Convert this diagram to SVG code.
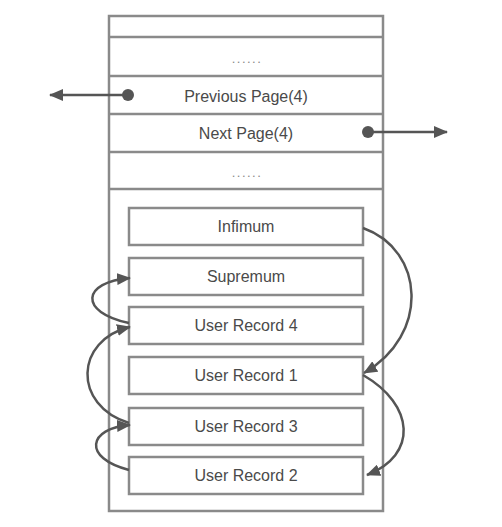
<svg xmlns="http://www.w3.org/2000/svg" width="502" height="527" viewBox="0 0 502 527">
<style>
.box{fill:#fff;stroke:#8a8a8a;stroke-width:2.5}
.t{font-family:"Liberation Sans",Arial,sans-serif;font-size:16px;fill:#4a4a4a;text-anchor:middle}
.d{font-family:"Liberation Sans",Arial,sans-serif;font-size:13px;fill:#888;text-anchor:middle;letter-spacing:1.5px}
.c{fill:none;stroke:#555;stroke-width:2.5}
</style>
<defs>
<marker id="ah" markerWidth="14" markerHeight="12" refX="13" refY="6" orient="auto" markerUnits="userSpaceOnUse">
<path d="M0,0 L14,6 L0,12 Z" fill="#555"/>
</marker>
</defs>
<rect width="502" height="527" fill="#fff"/>
<g id="page">
<rect class="box" x="109" y="16" width="274" height="495"/>
<line class="box" x1="109" y1="37" x2="383" y2="37"/>
<line class="box" x1="109" y1="76" x2="383" y2="76"/>
<line class="box" x1="109" y1="114" x2="383" y2="114"/>
<line class="box" x1="109" y1="152" x2="383" y2="152"/>
<line class="box" x1="109" y1="189" x2="383" y2="189"/>
<text class="d" x="247" y="63">......</text>
<text class="t" x="246" y="102">Previous Page(4)</text>
<text class="t" x="246" y="139">Next Page(4)</text>
<text class="d" x="247" y="177">......</text>
</g>
<g id="infimum"><rect class="box" x="129" y="208" width="234" height="37"/><text class="t" x="246" y="232">Infimum</text></g>
<g id="supremum"><rect class="box" x="129" y="258" width="234" height="37"/><text class="t" x="246" y="282">Supremum</text></g>
<g id="ur4"><rect class="box" x="129" y="307" width="234" height="37"/><text class="t" x="246" y="331">User Record 4</text></g>
<g id="ur1"><rect class="box" x="129" y="357" width="234" height="37"/><text class="t" x="246" y="381">User Record 1</text></g>
<g id="ur3"><rect class="box" x="129" y="408" width="234" height="37"/><text class="t" x="246" y="432">User Record 3</text></g>
<g id="ur2"><rect class="box" x="129" y="457" width="234" height="37"/><text class="t" x="246" y="481">User Record 2</text></g>
<g id="connectors">
<circle cx="128" cy="95" r="6" fill="#555"/>
<line class="c" x1="128" y1="95" x2="50" y2="95" marker-end="url(#ah)"/>
<circle cx="368" cy="132" r="6" fill="#555"/>
<line class="c" x1="368" y1="132" x2="447" y2="132" marker-end="url(#ah)"/>
<path class="c" d="M363,228 C425,250 430,335 364,373" marker-end="url(#ah)"/>
<path class="c" d="M363,375 C415,405 418,455 367,475" marker-end="url(#ah)"/>
<path class="c" d="M129,470 C82,458 88,428 130,425" marker-end="url(#ah)"/>
<path class="c" d="M129,423 C72,405 75,340 130,327" marker-end="url(#ah)"/>
<path class="c" d="M129,323 C78,312 82,282 130,278" marker-end="url(#ah)"/>
</g>
</svg>
